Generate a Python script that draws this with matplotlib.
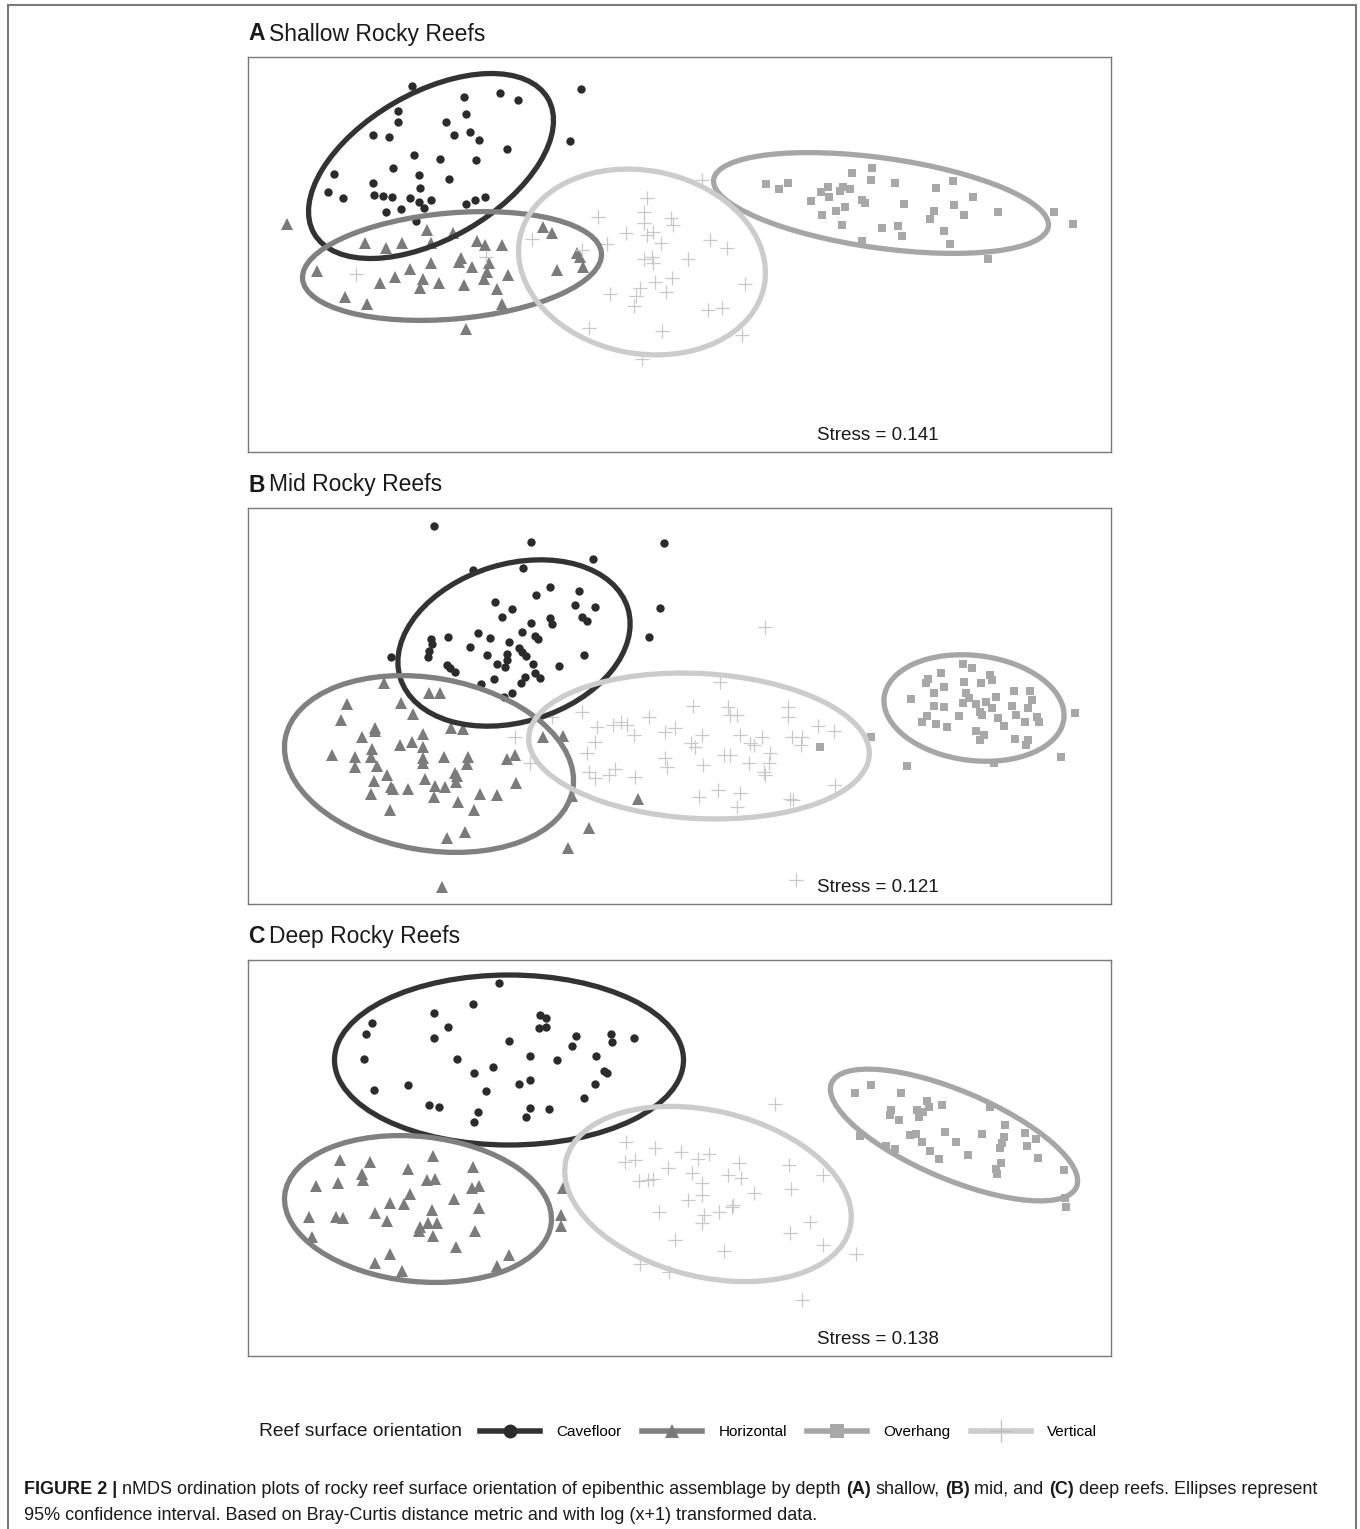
import matplotlib
matplotlib.use("Agg")
import matplotlib.pyplot as plt
from matplotlib.patches import Ellipse
from matplotlib.lines import Line2D

plt.rcParams['font.family'] = ['Liberation Sans', 'DejaVu Sans']

# nMDS scores per surface orientation (plot units, y axis runs downward)
a_cavefloor = [(164,29),(333,32),(216,40),(252,36),(270,43),(150,54),(218,57),(150,65),(198,65),(125,78),
               (141,80),(206,78),(222,75),(231,83),(322,84),(259,92),(166,98),(192,102),(228,103),(145,111),
               (86,117),(171,118),(201,122),(125,126),(172,131),(80,135),(95,141),(126,138),(135,139),(144,140),
               (162,141),(171,145),(183,143),(176,151),(218,147),(227,143),(237,140),(138,155),(153,152),(168,164)]
a_horizontal = [(39,167),(179,173),(205,176),(295,170),(304,176),(117,186),(138,191),(154,186),(183,186),(229,184),
                (237,188),(254,188),(329,196),(332,200),(335,210),(309,213),(213,201),(211,205),(183,206),(224,210),
                (241,206),(239,215),(69,214),(162,212),(147,220),(175,222),(191,226),(132,226),(172,231),(216,228),
                (236,222),(260,218),(249,232),(97,240),(119,247),(254,247),(218,272)]
a_overhang = [(518,127),(531,132),(540,126),(604,116),(624,111),(623,123),(647,126),(688,131),(705,124),(580,130),
              (573,135),(592,134),(595,130),(602,132),(581,140),(563,144),(614,143),(617,146),(656,147),(706,148),
              (725,140),(750,155),(716,158),(686,154),(682,162),(574,158),(588,154),(597,150),(594,168),(634,171),
              (650,169),(654,179),(696,174),(614,184),(702,187),(806,155),(825,167),(740,202)]
a_vertical = [(454,123),(399,141),(396,155),(396,166),(423,161),(425,168),(405,175),(399,178),(413,186),(350,160),
              (378,176),(359,187),(284,182),(462,183),(479,191),(440,202),(404,200),(396,202),(405,206),(334,193),
              (238,200),(108,217),(407,225),(424,221),(418,235),(392,231),(388,239),(362,237),(386,249),(460,253),
              (474,251),(341,271),(414,274),(394,302),(497,227),(494,278)]

b_cavefloor = [(186,18),(283,34),(416,35),(345,51),(225,62),(275,60),(302,79),(288,87),(331,83),(247,94),
               (264,101),(327,97),(347,99),(412,100),(254,109),(283,115),(302,110),(304,116),(334,109),(339,113),
               (230,125),(242,130),(261,134),(274,124),(287,128),(290,131),(401,129),(183,131),(184,136),(200,129),
               (222,139),(271,140),(274,144),(336,147),(181,143),(180,149),(143,149),(239,147),(259,146),(278,148),
               (259,152),(249,156),(257,159),(285,156),(311,158),(199,157),(202,160),(207,164),(246,171),(277,169),
               (287,165),(292,170),(273,175),(233,176),(264,185),(256,189)]
b_horizontal = [(136,175),(181,185),(192,185),(99,196),(153,195),(165,206),(93,212),(127,220),(127,223),(114,229),
                (203,220),(215,221),(175,226),(164,234),(152,237),(175,239),(124,241),(123,249),(84,247),(107,249),
                (107,259),(129,258),(175,250),(175,255),(196,249),(220,249),(219,256),(259,251),(267,247),(295,229),
                (315,228),(139,267),(126,273),(177,271),(207,265),(209,268),(208,274),(143,279),(145,281),(160,281),
                (187,278),(197,279),(123,286),(186,289),(232,286),(249,287),(268,275),(210,294),(142,302),(226,302),
                (390,291),(324,288),(199,330),(217,324),(341,320),(320,340),(194,379)]
b_overhang = [(715,156),(724,160),(693,165),(680,171),(678,175),(716,174),(733,175),(744,172),(742,167),(696,179),
              (686,185),(718,185),(721,190),(748,189),(766,183),(782,183),(663,191),(686,198),(696,199),(715,195),
              (728,196),(738,194),(744,200),(764,198),(780,200),(784,192),(679,208),(674,214),(688,216),(699,219),
              (711,208),(732,204),(734,207),(750,210),(756,218),(768,207),(777,214),(789,209),(791,214),(728,223),
              (736,227),(732,232),(767,231),(780,232),(778,237),(827,205),(813,249),(746,255),(659,258),(623,229),
              (572,239)]
b_vertical = [(517,119),(472,174),(304,209),(267,229),(282,255),(334,204),(349,219),(365,217),(373,214),(379,217),
              (386,227),(401,209),(347,234),(339,245),(341,264),(347,270),(361,267),(367,261),(387,269),(417,250),
              (419,259),(445,198),(427,220),(417,224),(454,227),(443,235),(447,239),(455,257),(476,247),(482,247),
              (480,199),(482,207),(489,207),(492,227),(502,235),(506,237),(514,229),(501,255),(522,245),(521,255),
              (516,264),(517,267),(540,199),(540,209),(544,229),(554,229),(553,237),(570,218),(586,223),(451,289),
              (470,282),(492,285),(489,299),(542,291),(545,292),(587,277),(548,372)]

c_cavefloor = [(251,23),(225,44),(186,53),(124,63),(200,67),(118,74),(186,78),(292,55),(298,58),(291,68),
               (298,67),(261,81),(328,76),(324,86),(363,74),(364,82),(386,78),(116,99),(209,99),(282,96),
               (309,100),(348,96),(245,107),(226,113),(356,111),(359,113),(282,120),(271,124),(160,125),(126,130),
               (238,131),(347,124),(336,138),(181,145),(191,147),(282,148),(301,149),(230,152),(278,157),(226,162)]
c_horizontal = [(92,200),(122,202),(185,196),(160,209),(225,207),(114,214),(115,220),(68,226),(90,223),(179,220),
                (187,219),(224,228),(231,226),(315,228),(162,234),(142,243),(156,244),(206,239),(184,250),(231,248),
                (127,253),(139,261),(61,257),(88,257),(95,258),(172,267),(180,263),(189,263),(171,271),(185,276),
                (227,271),(313,255),(313,266),(64,277),(208,287),(142,294),(127,303),(154,311),(261,295),(249,306)]
c_overhang = [(607,133),(623,125),(653,133),(679,141),(681,147),(694,145),(643,150),(642,155),(651,160),(669,150),
              (671,157),(675,152),(697,172),(662,175),(668,174),(674,182),(708,182),(734,174),(757,165),(756,177),
              (754,183),(752,188),(777,173),(788,179),(779,186),(790,198),(816,210),(682,191),(691,199),(720,195),
              (647,189),(638,186),(612,176),(753,203),(748,209),(749,214),(817,238),(818,247),(742,147)]
c_vertical = [(527,144),(378,182),(407,188),(433,192),(450,199),(461,194),(377,202),(387,200),(420,208),(444,213),
              (454,223),(491,203),(480,215),(493,218),(541,205),(391,221),(400,220),(405,219),(506,233),(543,229),
              (440,240),(454,235),(411,252),(456,255),(471,252),(484,247),(485,245),(454,263),(562,262),(542,273),
              (427,280),(476,291),(575,285),(608,294),(392,304),(421,312),(554,340),(575,215)]

# 95% confidence ellipses: centre x, centre y, width, height, angle (deg, y-down frame)
a_ellipses = [(183,109,270,146,-30), (204,209,300,106,-5), (633,146,338,90,8), (394,205,249,183,11)]
b_ellipses = [(266,135,238,158,-17), (181,256,292,172,10), (726,200,181,105,7), (451,238,341,145,3)]
c_ellipses = [(261,100,349,170,0), (170,249,268,145,6), (706,175,266,88,23), (460,234,292,166,13.5)]

orientations = ['Cavefloor', 'Horizontal', 'Overhang', 'Vertical']
point_cols = ['#2b2b2b', '#7b7b7b', '#a8a8a8', '#c9c9c9']
ring_cols = ['#333333', '#808080', '#a6a6a6', '#cccccc']
markers = ['o', '^', 's', '+']
msizes = [6, 8, 6, 10]

titles = [('A', 'Shallow Rocky Reefs'), ('B', 'Mid Rocky Reefs'), ('C', 'Deep Rocky Reefs')]
stress = ['0.141', '0.121', '0.138']

W, H = 1360, 1529
fig = plt.figure(figsize=(W / 100, H / 100), dpi=100)
renderer = fig.canvas.get_renderer()


def rich_text(x, y, parts, size, gap=0.278):
    # draw bold/regular runs one after another on the same baseline
    space = gap * size * 100 / 72
    for s, w in parts:
        t = fig.text(x / W, 1 - y / H, s, fontsize=size, weight=w, va='center', ha='left', color='#1a1a1a')
        bb = t.get_window_extent(renderer)
        x = bb.x1 + space


boxes = [(57, 452), (508, 904), (960, 1356)]
panels = [
    ([a_cavefloor, a_horizontal, a_overhang, a_vertical], a_ellipses),
    ([b_cavefloor, b_horizontal, b_overhang, b_vertical], b_ellipses),
    ([c_cavefloor, c_horizontal, c_overhang, c_vertical], c_ellipses),
]

for (top, bottom), (groups, ells), (letter, name), st in zip(boxes, panels, titles, stress):
    ax = fig.add_axes([248 / W, 1 - bottom / H, 863 / W, (bottom - top) / H])
    ax.set_xlim(0, 863)
    ax.set_ylim(bottom - top, 0)
    ax.set_xticks([])
    ax.set_yticks([])
    for sp in ax.spines.values():
        sp.set_color('#7a7a7a')
        sp.set_linewidth(1)

    for pts, col, m, ms in zip(groups, point_cols, markers, msizes):
        xs = [p[0] for p in pts]
        ys = [p[1] for p in pts]
        if m == '+':
            ax.plot(xs, ys, ls='none', marker=m, ms=ms, mew=0.9, color=col, zorder=2)
        else:
            ax.plot(xs, ys, ls='none', marker=m, ms=ms, mew=0, color=col, zorder=2)

    for (cx, cy, w, h, ang), col in zip(ells, ring_cols):
        ax.add_patch(Ellipse((cx, cy), w, h, angle=ang, fill=False, ec=col, lw=3.8, zorder=3))

    ax.text(0.73, 0.042, 'Stress = ' + st, transform=ax.transAxes, ha='center', va='center',
            fontsize=13.6, color='#1a1a1a')
    rich_text(248, top - 23, [(letter, 'bold'), (name, 'normal')], 16.5, gap=0.2)

# legend row
fig.text(259 / W, 1 - 1432 / H, 'Reef surface orientation', fontsize=13.8, va='center', ha='left',
         color='#1a1a1a')
handles = []
for col, rc, m in zip(point_cols, ring_cols, markers):
    if m == '+':
        handles.append(Line2D([], [], color=rc, lw=4, marker='+', ms=16, mew=0.9, mec='#bdbdbd'))
    else:
        handles.append(Line2D([], [], color=rc, lw=4, marker=m, ms=10, mew=0, mfc=col))
fig.legend(handles, orientations, loc='center left', bbox_to_anchor=(480 / W, 1 - 1432 / H), ncol=4,
           frameon=False, fontsize=11, handlelength=3.9, handletextpad=1.1, columnspacing=1.33,
           borderpad=0, borderaxespad=0)

# caption
rich_text(24, 1489, [('FIGURE 2 |', 'bold'),
                     ('nMDS ordination plots of rocky reef surface orientation of epibenthic assemblage by depth', 'normal'),
                     ('(A)', 'bold'), ('shallow,', 'normal'), ('(B)', 'bold'), ('mid, and', 'normal'),
                     ('(C)', 'bold'), ('deep reefs. Ellipses represent', 'normal')], 13)
rich_text(24, 1515, [('95% confidence interval. Based on Bray-Curtis distance metric and with log (x+1) transformed data.',
                      'normal')], 13)

# page frame
frame = dict(color='#7a7a7a', lw=1.5, transform=fig.transFigure)
fig.add_artist(Line2D([8 / W, 1356 / W], [1 - 5 / H, 1 - 5 / H], **frame))
fig.add_artist(Line2D([8 / W, 8 / W], [1 - 5 / H, 0], **frame))
fig.add_artist(Line2D([1356 / W, 1356 / W], [1 - 5 / H, 0], **frame))

fig.savefig('out.png', dpi=100)
